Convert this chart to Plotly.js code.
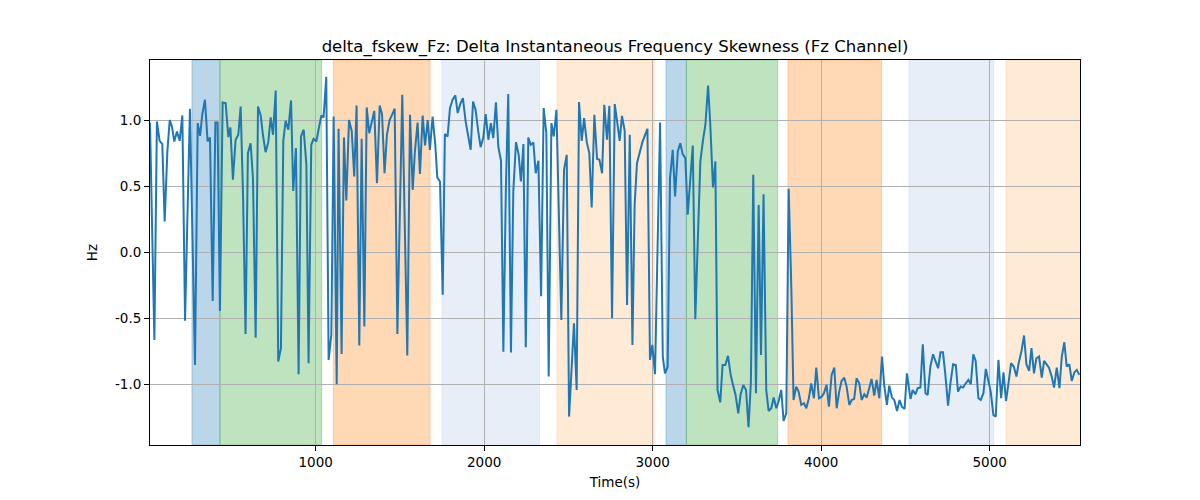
<!DOCTYPE html>
<html>
<head>
<meta charset="utf-8">
<script src="https://cdn.plot.ly/plotly-3.0.1.min.js"></script>
<style>html,body{margin:0;padding:0;background:#fff}#chart{width:1200px;height:500px}</style>
</head>
<body>
<div id="chart"></div>
<script>
// Time (s) of each sample
const timeA = [17,43,58,74,90,104,120,134,147,161,177,193,209,225,254,284,300,314,327,343,359,373,389,405,418,432,448,466,482,494,509,525,541,555,569,584,598,614,628,644,658,674,687,703,719,733,747,763,778,794,808,822,838,854,867,883,899,913,929,945,958,974,988,1004,1018,1034,1047,1063,1077,1093,1107,1125,1136];
const skewA = [0.98,-0.665,0.99,0.843,0.818,0.232,0.762,1.0,0.952,0.838,0.914,0.843,1.035,-0.52,1.086,-0.854,0.977,0.881,1.04,1.154,0.838,0.868,-0.369,0.982,0.982,-0.445,1.134,1.129,0.871,0.944,0.548,0.851,0.889,1.103,0.434,-0.62,0.75,0.825,0.56,-0.647,1.103,1.035,0.889,0.757,0.833,1.02,0.889,1.224,-0.828,-0.727,0.843,0.995,0.927,1.149,0.464,0.788,-0.924,0.876,0.927,0.661,-0.841,0.813,0.858,0.838,0.934,1.035,1.02,1.328,-0.816,-0.626,1.027,-1.0,0.934];

const timeB = [1154,1168,1182,1198,1214,1229,1243,1259,1273,1289,1303,1318,1334,1348,1364,1380,1394,1409,1423,1439,1455,1469,1485,1514,1544,1560,1576,1589,1605,1619,1635,1649,1665,1678,1694,1710,1722,1738,1754,1767,1783,1797,1813,1829,1843,1858,1874,1890,1904,1920,1934,1949,1965,1979,1995,2009,2025,2040,2054,2070,2084,2100,2114,2129,2143,2159,2173,2189,2205,2218];
const skewB = [-0.77,0.868,0.391,1.0,0.919,0.573,1.111,-0.707,0.858,-0.563,1.096,0.901,1.0,1.07,0.523,1.111,1.045,0.598,0.889,1.0,1.045,1.086,-0.62,1.192,-0.783,1.04,0.472,0.762,0.982,0.593,1.035,0.808,1.0,0.775,1.027,0.813,0.565,0.535,-0.323,0.894,0.876,1.091,1.154,1.187,1.053,1.121,1.166,0.99,0.889,0.775,1.141,1.078,0.914,0.795,0.868,1.045,0.851,0.977,0.863,1.134,0.8,0.692,-0.753,0.485,1.197,-0.76,0.459,0.833,0.737,0.535];

const timeC = [2233,2247,2262,2276,2292,2306,2322,2338,2353,2369,2383,2399,2413,2429,2458,2474,2490,2504,2520,2533,2549,2563,2579,2593,2609,2624,2638,2654,2670,2684,2700,2713,2729,2743,2759,2775,2789,2804,2818,2834,2848,2864,2880,2893,2907,2923,2939,2953,2969,2984,2998,3014,3028,3044,3060,3073,3089,3103,3119,3133,3149,3164,3178,3194,3208,3224,3238,3253,3283,3299,3313,3329,3342,3358,3372];
const skewC = [0.818,-0.72,0.868,0.813,0.83,0.598,0.692,-0.334,1.091,0.901,-0.942,0.977,0.876,1.078,-0.513,0.623,0.737,-1.245,-0.854,-0.538,-1.043,1.136,0.843,1.015,0.833,0.75,0.338,1.04,0.707,0.7,0.598,1.116,0.851,1.108,-0.5,1.121,0.99,0.843,1.032,0.919,-0.399,0.889,-0.702,0.358,0.674,0.757,0.833,0.881,0.934,-0.816,-0.702,-0.924,0.005,0.982,-0.791,-0.917,-0.867,0.56,0.775,0.422,0.762,0.825,0.742,0.712,0.283,0.598,0.808,-0.508,0.687,0.851,0.965,1.262,0.965,0.49,0.687];

const timeD = [3385,3401,3415,3431,3447,3463,3476,3492,3508,3522,3538,3554,3569,3583,3597,3613,3629,3643,3658,3674,3688,3704,3718,3734,3747,3763,3777,3793,3807,3823,3836,3852,3866,3882,3898,3912,3927,3941,3957,3971,3987,4003,4016,4032,4046,4062,4078,4092,4107,4121,4137,4151,4167,4181,4196,4210,4226,4240,4256,4270,4285,4299,4315,4329,4345,4361,4374,4390,4404,4420,4434,4450,4465,4479,4495,4509];
const skewD = [-1.043,-1.137,-0.854,-0.854,-0.785,-0.929,-1.0,-1.081,-1.22,-1.076,-1.005,-1.043,-1.326,-0.98,0.586,-1.068,0.358,-0.778,0.439,-1.043,-1.202,-1.182,-1.101,-1.182,-1.131,-1.043,-1.278,-1.22,0.48,-0.273,-1.119,-1.018,-1.056,-1.157,-1.144,-1.182,-1.106,-0.993,-1.106,-0.874,-1.106,-1.094,-1.068,-1.005,-1.17,-0.929,-0.874,-1.182,-1.056,-0.975,-0.95,-1.018,-1.157,-1.119,-1.111,-0.955,-0.993,-1.119,-1.076,-1.101,-1.03,-0.96,-1.086,-0.968,-1.106,-0.79,-1.005,-1.157,-1.01,-1.101,-1.119,-1.202,-1.119,-1.17,-1.187,-0.917];

const timeE = [4530,4543,4559,4573,4589,4603,4619,4632,4648,4664,4678,4694,4708,4723,4737,4753,4767,4783,4799,4812,4828,4842,4858,4874,4888,4903,4917,4933,4947,4963,4977,4992,5006,5022,5036,5052,5068,5082,5097,5113,5127,5143,5159,5172,5188,5204,5218,5234,5248,5263,5277,5293,5309,5323,5339,5352,5368,5382,5398,5414,5428,5443,5457,5473,5487,5503,5517,5532];
const skewE = [-1.111,-1.043,-1.076,-1.03,-1.025,-0.697,-1.068,-1.081,-0.866,-0.773,-0.823,-0.879,-0.758,-0.758,-0.929,-1.162,-0.993,-0.849,-0.854,-1.056,-1.018,-1.025,-0.993,-0.967,-1.0,-0.773,-0.823,-1.106,-1.119,-1.068,-0.884,-0.967,-1.056,-1.232,-1.245,-0.816,-1.106,-0.909,-1.127,-0.98,-0.841,-0.866,-0.942,-0.841,-0.753,-0.631,-0.849,-0.899,-0.727,-0.917,-0.803,-0.79,-0.95,-0.823,-0.854,-0.874,-0.942,-1.025,-0.874,-1.03,-0.79,-0.682,-0.866,-0.849,-0.975,-0.909,-0.891,-0.929];

// Shaded intervals
const spanStart = [266, 432, 1105, 1750, 2432, 3079, 3200, 3803, 4521, 5097];
const spanEnd   = [432, 1036, 1679, 2329, 3010, 3200, 3742, 4359, 5024, 5540];
const spanColor = ['31,119,180','44,160,44','255,127,14','174,199,232','255,187,120',
                   '31,119,180','44,160,44','255,127,14','174,199,232','255,187,120'];

const xTicks = [1000, 2000, 3000, 4000, 5000];
const yTicks = [-1.0, -0.5, 0.0, 0.5, 1.0];

const timeS = [].concat(timeA, timeB, timeC, timeD, timeE);
const skewHz = [].concat(skewA, skewB, skewC, skewD, skewE);

const shapes = spanStart.map((s, i) => ({
  type: 'rect', xref: 'x', yref: 'paper', x0: s, x1: spanEnd[i], y0: 0, y1: 1,
  fillcolor: 'rgba(' + spanColor[i] + ',0.3)',
  line: {color: 'rgba(' + spanColor[i] + ',0.3)', width: 1},
  layer: 'below'
}));

const font = {family: 'DejaVu Sans, sans-serif', color: '#000'};

Plotly.newPlot('chart', [{
  x: timeS, y: skewHz, type: 'scatter', mode: 'lines',
  line: {color: '#1f77b4', width: 2}, hoverinfo: 'x+y'
}], {
  width: 1200, height: 500,
  margin: {l: 150, r: 120, t: 60, b: 55},
  paper_bgcolor: '#fff', plot_bgcolor: '#fff',
  font: Object.assign({size: 13.5}, font),
  showlegend: false,
  title: {text: 'delta_fskew_Fz: Delta Instantaneous Frequency Skewness (Fz Channel)',
          font: Object.assign({size: 16.5}, font),
          x: 0.5, xref: 'paper', xanchor: 'center', y: 1 - 46/500, yref: 'container', yanchor: 'middle'},
  xaxis: {
    range: [timeS[0], 5536], tickvals: xTicks, ticktext: xTicks.map(String),
    showgrid: true, gridcolor: '#b0b0b0', gridwidth: 1, zeroline: false,
    showline: true, linecolor: '#000', linewidth: 1, mirror: true,
    ticks: 'outside', ticklen: 5, tickcolor: '#000', tickwidth: 1,
    tickfont: Object.assign({size: 13.5}, font),
    title: {text: 'Time(s)', font: Object.assign({size: 13.5}, font), standoff: 8}
  },
  yaxis: {
    range: [-1.46, 1.455], tickvals: yTicks, ticktext: yTicks.map(v => v.toFixed(1)),
    showgrid: true, gridcolor: '#b0b0b0', gridwidth: 1, zeroline: false,
    showline: true, linecolor: '#000', linewidth: 1, mirror: true,
    ticks: 'outside', ticklen: 5, tickcolor: '#000', tickwidth: 1,
    tickfont: Object.assign({size: 13.5}, font),
    title: {text: 'Hz', font: Object.assign({size: 13.5}, font), standoff: 14}
  },
  shapes: shapes
}, {displayModeBar: false, staticPlot: true});
</script>
</body>
</html>
